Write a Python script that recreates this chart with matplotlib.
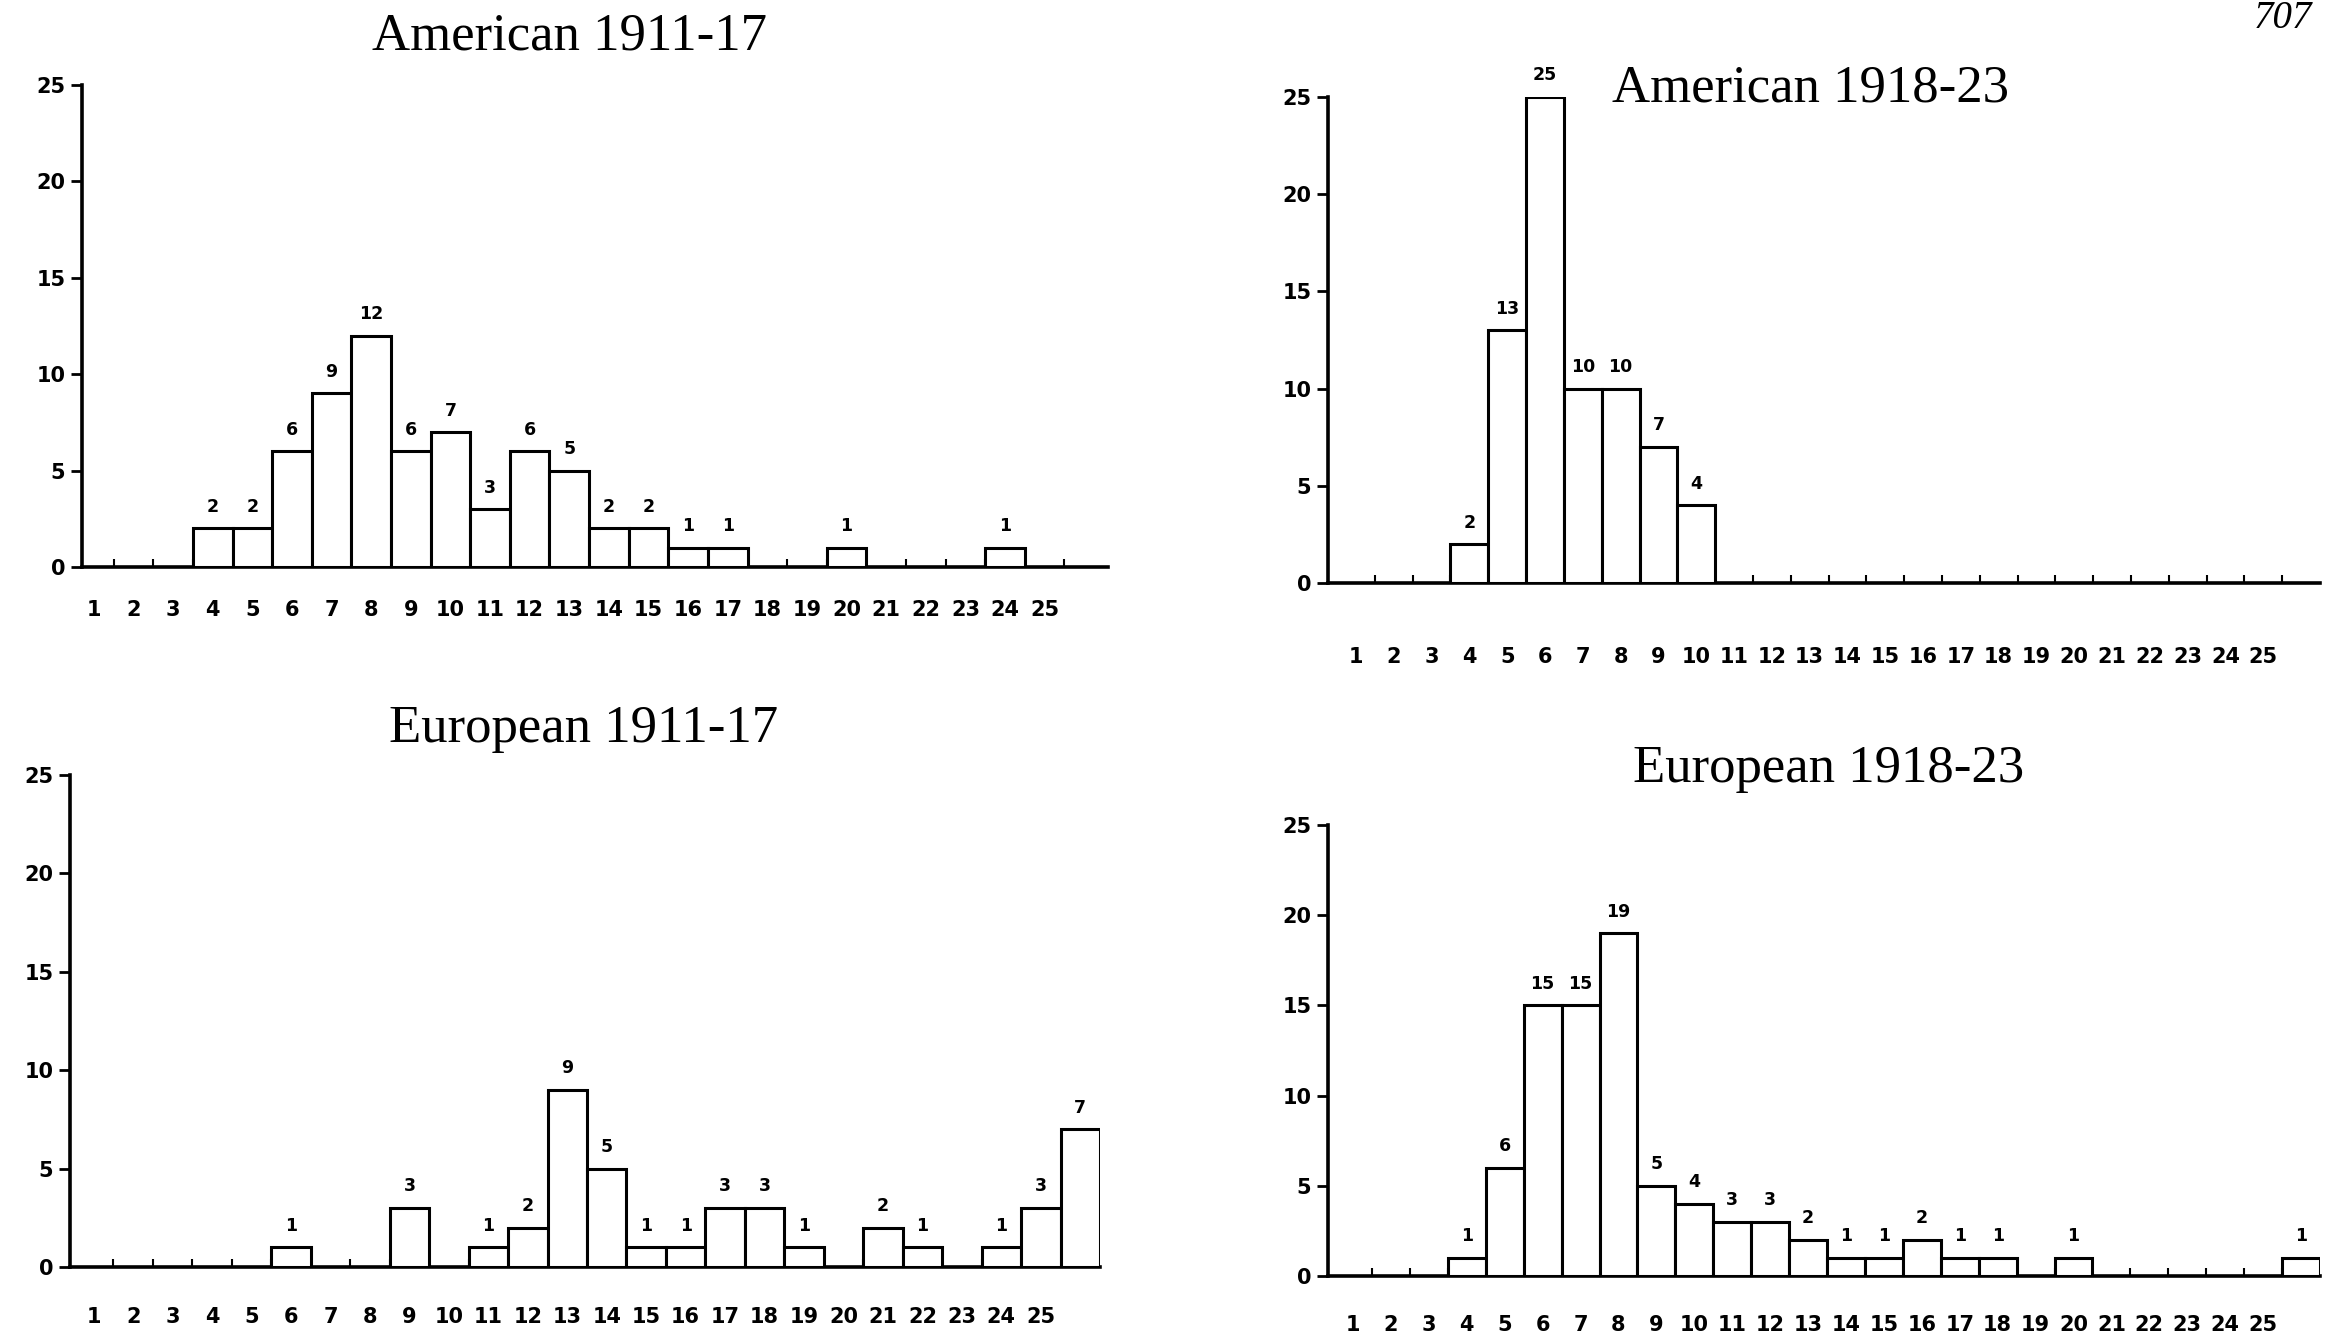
import matplotlib
matplotlib.use("Agg")
import matplotlib.pyplot as plt
import numpy as np

# ---- data ----
bins = list(range(1, 26))          # tick labels 1..25

am1911_pos = [4, 5, 6, 7, 8, 9, 10, 11, 12, 13, 14, 15, 16, 17, 20, 24]
am1911_val = [2, 2, 6, 9, 12, 6, 7, 3, 6, 5, 2, 2, 1, 1, 1, 1]

am1918_pos = [4, 5, 6, 7, 8, 9, 10]
am1918_val = [2, 13, 25, 10, 10, 7, 4]

eu1911_pos = [6, 9, 11, 12, 13, 14, 15, 16, 17, 18, 19, 21, 22, 24, 25, 26]
eu1911_val = [1, 3, 1, 2, 9, 5, 1, 1, 3, 3, 1, 2, 1, 1, 3, 7]

eu1918_pos = [4, 5, 6, 7, 8, 9, 10, 11, 12, 13, 14, 15, 16, 17, 18, 20, 26]
eu1918_val = [1, 6, 15, 15, 19, 5, 4, 3, 3, 2, 1, 1, 2, 1, 1, 1, 1]

titles = ["American 1911-17", "American 1918-23", "European 1911-17", "European 1918-23"]
y_ticks = [0, 5, 10, 15, 20, 25]

W, H = 2332, 1340
fig = plt.figure(figsize=(W / 100, H / 100), dpi=100)
fig.patch.set_facecolor("white")

# axes boxes in pixels: left, right, y0(bottom baseline), y25(top)
panels = [
    dict(box=(82, 1108, 567, 85), xlim=(0.7, 26.6), pos=am1911_pos, val=am1911_val,
         title_xy=(570, 37), pad=24),
    dict(box=(1328, 2320, 583, 97), xlim=(0.26, 26.5), pos=am1918_pos, val=am1918_val,
         title_xy=(1811, 89), pad=46),
    dict(box=(70, 1100, 1267, 775), xlim=(0.4, 26.5), pos=eu1911_pos, val=eu1911_val,
         title_xy=(584, 729), pad=29),
    dict(box=(1328, 2320, 1276, 825), xlim=(0.34, 26.5), pos=eu1918_pos, val=eu1918_val,
         title_xy=(1829, 769), pad=28),
]

sans = ["DejaVu Sans"]
for p, title in zip(panels, titles):
    l, r, y0, y25 = p["box"]
    ax = fig.add_axes([l / W, 1 - y0 / H, (r - l) / W, (y0 - y25) / H])
    ax.set_facecolor("none")
    bars = ax.bar(p["pos"], p["val"], width=1.0, facecolor="white",
                  edgecolor="black", linewidth=2.2, zorder=3)
    ax.bar_label(bars, fmt="%d", padding=9, fontsize=12.5, fontweight="bold",
                 family=sans)
    ax.set_xlim(*p["xlim"])
    ax.set_ylim(0, 25)
    ax.set_xticks(bins)
    ax.set_xticklabels([str(b) for b in bins], fontsize=15, fontweight="bold",
                       family=sans)
    ax.set_xticks([b + 0.5 for b in bins], minor=True)
    ax.tick_params(axis="x", which="major", length=0, pad=p["pad"])
    ax.tick_params(axis="x", which="minor", direction="in", length=6, width=1.5)
    ax.set_yticks(y_ticks)
    ax.set_yticklabels([str(t) for t in y_ticks], fontsize=15, fontweight="bold",
                       family=sans)
    ax.tick_params(axis="y", direction="out", length=8, width=2, pad=4)
    for s in ("top", "right"):
        ax.spines[s].set_visible(False)
    for s in ("left", "bottom"):
        ax.spines[s].set_linewidth(2.6)
    fig.text(p["title_xy"][0] / W, 1 - p["title_xy"][1] / H, title,
             family="Liberation Serif", fontsize=38, ha="center", va="center")

# page number at the top-right corner
fig.text(2283 / W, 1 - 18 / H, "707", family="Liberation Serif", fontsize=28,
         fontstyle="italic", ha="center", va="center")

fig.savefig("out.png", dpi=100, facecolor="white")
